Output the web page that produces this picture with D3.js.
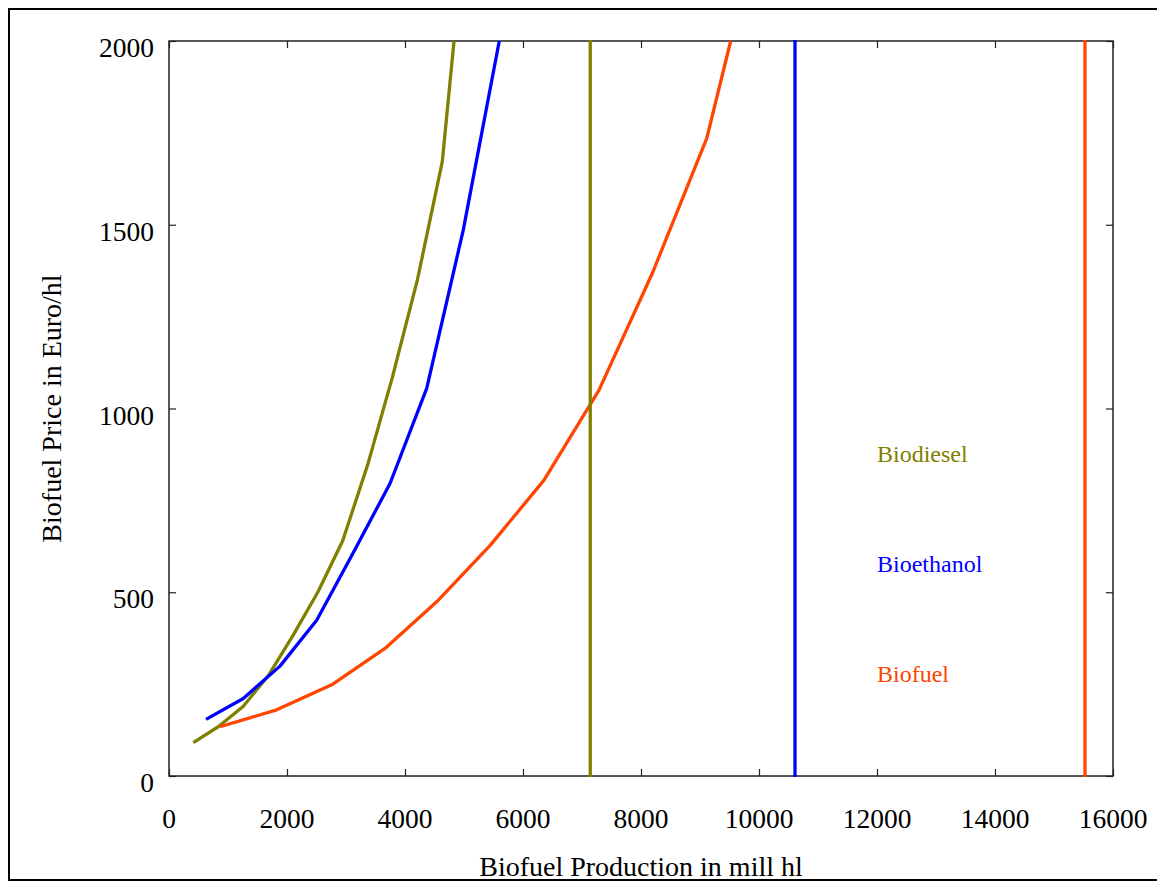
<!DOCTYPE html>
<html>
<head>
<meta charset="utf-8">
<script src="https://cdn.jsdelivr.net/npm/d3@7"></script>
<style>
  html, body { margin: 0; padding: 0; background: #fff; }
  svg text { font-family: "Liberation Serif", "Times New Roman", serif; }
</style>
</head>
<body>
<svg id="chart" width="1157" height="882"></svg>
<script>
// ── Data ──────────────────────────────────────────────────────────
const biodieselX = [412, 834, 1256, 1678, 2100, 2522, 2944, 3366, 3788, 4210, 4632, 4831];
const biodieselY = [91, 134, 189, 272, 382, 500, 640, 846, 1086, 1350, 1672, 2000];

const bioethanolX = [627, 1259, 1881, 2503, 3125, 3746, 4368, 4988, 5598];
const bioethanolY = [154, 211, 299, 424, 608, 796, 1055, 1486, 2000];

const biofuelX = [864, 1825, 2758, 3661, 4537, 5451, 6356, 7288, 8192, 9114, 9520];
const biofuelY = [134, 180, 248, 347, 474, 629, 805, 1050, 1368, 1735, 2000];

// capacity limits (vertical lines)
const limitX = [7140, 10610, 15525];

const seriesNames  = ["Biodiesel", "Bioethanol", "Biofuel"];
const seriesColors = ["#808000", "#0000ff", "#ff4500"];
const labelX = 12000;
const labelY = [855, 555, 255];

const xTicks = [0, 2000, 4000, 6000, 8000, 10000, 12000, 14000, 16000];
const yTicks = [0, 500, 1000, 1500, 2000];

// ── Setup ─────────────────────────────────────────────────────────
const svg = d3.select("#chart");
const x = d3.scaleLinear().domain([0, 16000]).range([169, 1113]);
const y = d3.scaleLinear().domain([0, 2000]).range([776, 41]);

// outer frame
svg.append("rect")
  .attr("x", 9).attr("y", 9)
  .attr("width", 1160).attr("height", 871)
  .attr("fill", "none")
  .attr("stroke", "#000")
  .attr("stroke-width", 2);

svg.append("defs").append("clipPath").attr("id", "plotClip")
  .append("rect")
    .attr("x", 169).attr("y", 39)
    .attr("width", 944).attr("height", 738);

// ── Axes ──────────────────────────────────────────────────────────
const axisG = svg.append("g").attr("class", "axes");

function styleAxis(g) {
  g.select(".domain").remove();
  g.selectAll(".tick line").attr("stroke", "#222").attr("stroke-width", 1.2);
  g.selectAll(".tick text").remove();
}

axisG.append("g").attr("transform", "translate(0,776)")
  .call(d3.axisBottom(x).tickValues(xTicks).tickSizeInner(-7).tickSizeOuter(0)).call(styleAxis);
axisG.append("g").attr("transform", "translate(0,41)")
  .call(d3.axisTop(x).tickValues(xTicks).tickSizeInner(-7).tickSizeOuter(0)).call(styleAxis);
axisG.append("g").attr("transform", "translate(169,0)")
  .call(d3.axisLeft(y).tickValues(yTicks).tickSizeInner(-7).tickSizeOuter(0)).call(styleAxis);
axisG.append("g").attr("transform", "translate(1113,0)")
  .call(d3.axisRight(y).tickValues(yTicks).tickSizeInner(-7).tickSizeOuter(0)).call(styleAxis);

// plot box
svg.append("rect")
  .attr("x", x(0)).attr("y", y(2000))
  .attr("width", x(16000) - x(0)).attr("height", y(0) - y(2000))
  .attr("fill", "none")
  .attr("stroke", "#222")
  .attr("stroke-width", 1.5);

// tick labels
svg.append("g").selectAll("text")
  .data(xTicks)
  .join("text")
    .attr("x", d => x(d))
    .attr("y", 828)
    .attr("text-anchor", "middle")
    .attr("font-size", 27.5)
    .text(d => d);

svg.append("g").selectAll("text")
  .data(yTicks)
  .join("text")
    .attr("x", 154)
    .attr("y", d => y(d) + 16)
    .attr("text-anchor", "end")
    .attr("font-size", 27.5)
    .text(d => d);

// axis titles
svg.append("text")
  .attr("x", (x(0) + x(16000)) / 2)
  .attr("y", 876)
  .attr("text-anchor", "middle")
  .attr("font-size", 28)
  .text("Biofuel Production in mill hl");

svg.append("text")
  .attr("transform", `translate(61,${(y(0) + y(2000)) / 2}) rotate(-90)`)
  .attr("text-anchor", "middle")
  .attr("font-size", 28)
  .text("Biofuel Price in Euro/hl");

// ── Series ────────────────────────────────────────────────────────
const plotG = svg.append("g").attr("clip-path", "url(#plotClip)");
const line = d3.line().x(d => x(d[0])).y(d => y(d[1]));

const curves = [
  d3.zip(biodieselX, biodieselY),
  d3.zip(bioethanolX, bioethanolY),
  d3.zip(biofuelX, biofuelY),
];

plotG.selectAll("path.curve")
  .data(curves)
  .join("path")
    .attr("class", "curve")
    .attr("d", line)
    .attr("fill", "none")
    .attr("stroke", (d, i) => seriesColors[i])
    .attr("stroke-width", 3.3)
    .attr("stroke-linejoin", "round");

svg.append("g").selectAll("line")
  .data(limitX)
  .join("line")
    .attr("x1", d => x(d)).attr("x2", d => x(d))
    .attr("y1", y(0) + 1).attr("y2", y(2000) - 1)
    .attr("stroke", (d, i) => seriesColors[i])
    .attr("stroke-width", 3.3);

// series labels
svg.append("g").selectAll("text")
  .data(seriesNames)
  .join("text")
    .attr("x", x(labelX))
    .attr("y", (d, i) => y(labelY[i]))
    .attr("font-size", 24)
    .attr("fill", (d, i) => seriesColors[i])
    .text(d => d);
</script>
</body>
</html>
